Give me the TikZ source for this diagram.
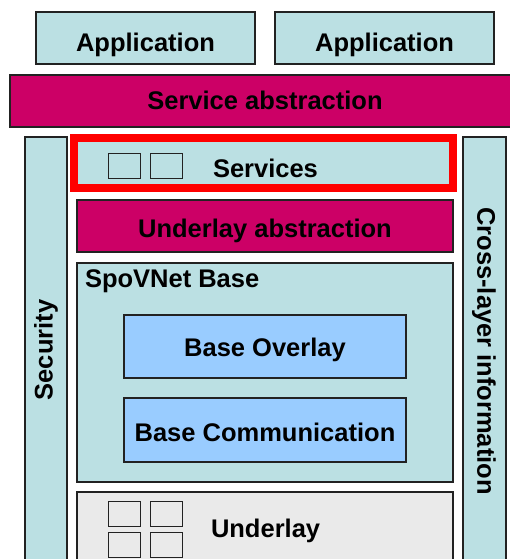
\documentclass[tikz,border=0pt]{standalone}
\usepackage{fontspec}
\setmainfont{Liberation Sans}
\definecolor{teal1}{HTML}{BBE0E3}
\definecolor{mag}{HTML}{CC0066}
\definecolor{blu}{HTML}{99CCFF}
\definecolor{gry}{HTML}{EAEAEA}
\definecolor{edge}{HTML}{222222}
\tikzset{
  box/.style={draw=edge, line width=1.3pt, rectangle, outer sep=0pt, inner sep=0pt, anchor=north west},
  tbox/.style={box, fill=teal1},
  mbox/.style={box, fill=mag},
  bbox/.style={box, fill=blu},
  gbox/.style={box, fill=gry},
  sq/.style={draw=edge, line width=1pt, rectangle, outer sep=0pt, inner sep=0pt, anchor=north west,
    minimum width=32pt, minimum height=25pt},
  lbl/.style={font=\fontsize{25.5}{30}\selectfont\bfseries, inner sep=0pt, outer sep=0pt, anchor=base},
}
\begin{document}
\begin{tikzpicture}[x=1pt, y=-1pt]
\useasboundingbox (0,0) rectangle (510,559);
\clip (0,0) rectangle (510,559);
\node[tbox, minimum width=219pt, minimum height=52pt] (app1) at (36,12) {};
\node[lbl] (app1lbl) at (145.5,52) {Application};
\node[tbox, minimum width=219pt, minimum height=52pt] (app2) at (275,12) {};
\node[lbl] (app2lbl) at (384.5,52) {Application};
\node[mbox, minimum width=510pt, minimum height=52pt] (sabs) at (10,75) {};
\node[lbl] (sabslbl) at (265,110) {Service abstraction};
\node[tbox, minimum width=42pt, minimum height=440pt] (sec) at (25,137) {};
\node[lbl, anchor=center, rotate=90] (seclbl) at (46,350) {Security};
\node[tbox, minimum width=43pt, minimum height=440pt] (cross) at (463,137) {};
\node[lbl, anchor=center, rotate=-90] (crosslbl) at (484,351) {Cross-layer information};
\node[tbox, draw=red, line width=8pt, minimum width=379pt, minimum height=50pt] (serv) at (74,137.5) {};
\node[sq] (s1) at (108,153) {};
\node[sq] (s2) at (150,153) {};
\node[lbl, anchor=base west] (servlbl) at (213,177) {Services};
\node[mbox, minimum width=376pt, minimum height=52pt] (uabs) at (77,200) {};
\node[lbl] (uabslbl) at (265,237) {Underlay abstraction};
\node[tbox, minimum width=376pt, minimum height=219pt] (spov) at (77,263) {};
\node[lbl, anchor=base west] (spovlbl) at (85,287) {SpoVNet Base};
\node[bbox, minimum width=282pt, minimum height=63pt] (bov) at (124,315) {};
\node[lbl] (bovlbl) at (265,356) {Base Overlay};
\node[bbox, minimum width=282pt, minimum height=64pt] (bcom) at (124,398) {};
\node[lbl] (bcomlbl) at (265,441) {Base Communication};
\node[gbox, minimum width=376pt, minimum height=80pt] (ul) at (77,492) {};
\node[sq] (u1) at (108,501) {};
\node[sq] (u2) at (150,501) {};
\node[sq] (u3) at (108,532) {};
\node[sq] (u4) at (150,532) {};
\node[lbl, anchor=base west] (ullbl) at (211,537) {Underlay};
\end{tikzpicture}
\end{document}
